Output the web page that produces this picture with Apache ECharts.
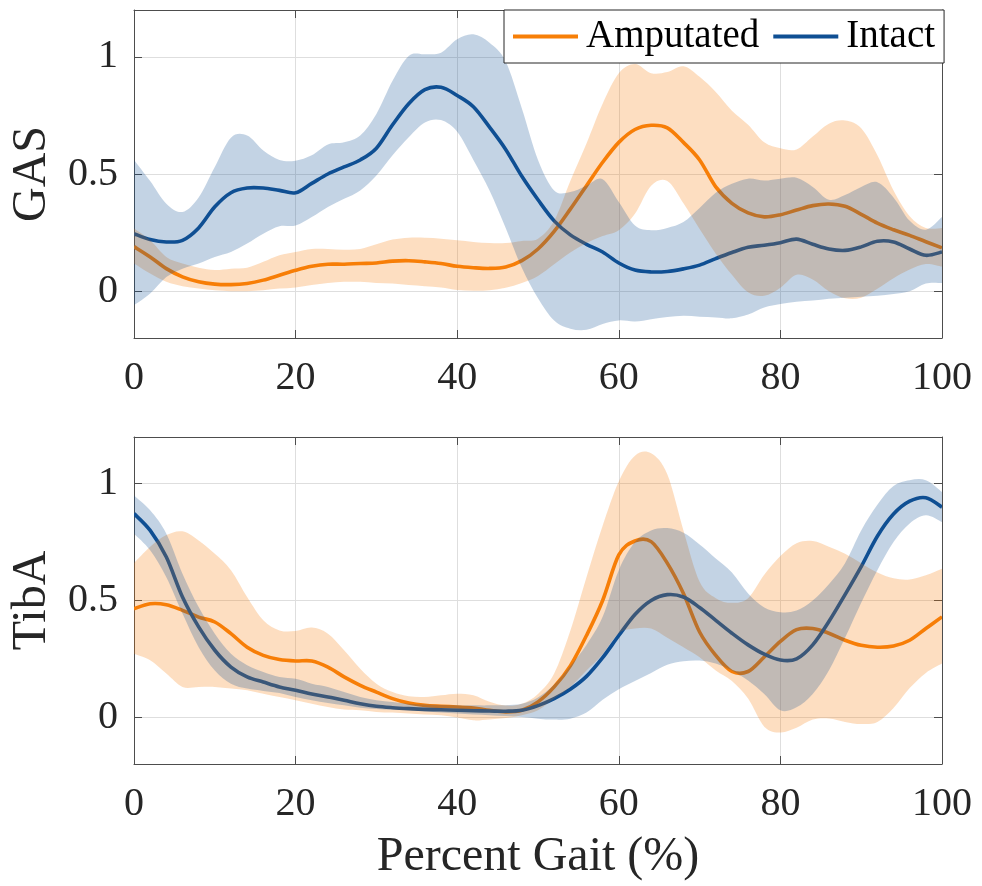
<!DOCTYPE html>
<html>
<head>
<meta charset="utf-8">
<script src="https://cdn.jsdelivr.net/npm/echarts@6/dist/echarts.min.js"></script>
<style>
html, body { margin: 0; padding: 0; background: #fff; }
#chart { width: 982px; height: 886px; }
</style>
</head>
<body>
<div id="chart"></div>
<script>
// percent gait, sampled every 2 %
const gait = [0,2,4,6,8,10,12,14,16,18,20,22,24,26,28,30,32,34,36,38,40,42,44,46,48,50,
  52,54,56,58,60,62,64,66,68,70,72,74,76,78,80,82,84,86,88,90,92,94,96,98,100];

// GAS
const gasAmpMean = [0.19,0.146,0.096,0.061,0.04,0.03,0.028,0.033,0.047,0.068,0.089,0.106,0.115,0.115,0.118,0.12,0.128,0.13,0.125,0.118,0.106,0.1,0.097,0.103,0.13,0.18,
  0.255,0.35,0.45,0.55,0.635,0.69,0.708,0.697,0.635,0.56,0.445,0.375,0.334,0.317,0.326,0.346,0.365,0.372,0.362,0.328,0.29,0.262,0.238,0.211,0.185];
const gasAmpUpper = [0.267,0.217,0.146,0.118,0.1,0.09,0.096,0.1,0.125,0.153,0.167,0.18,0.18,0.177,0.18,0.2,0.22,0.228,0.228,0.224,0.217,0.21,0.205,0.205,0.214,0.224,
  0.3,0.47,0.63,0.8,0.93,0.97,0.93,0.935,0.96,0.915,0.85,0.77,0.71,0.635,0.61,0.605,0.66,0.715,0.728,0.695,0.58,0.43,0.32,0.27,0.27];
const gasAmpLower = [0.118,0.075,0.04,0.021,0.011,0.004,0,0,0.004,0.011,0.016,0.026,0.035,0.04,0.04,0.035,0.033,0.026,0.021,0.016,0.005,0.002,0.004,0.015,0.035,0.065,
  0.115,0.165,0.205,0.235,0.26,0.33,0.45,0.47,0.375,0.265,0.16,0.07,-0.005,-0.02,0.015,0.07,0.05,0,-0.03,-0.028,0.01,0.055,0.092,0.116,0.105];
const gasIntMean = [0.245,0.22,0.21,0.217,0.27,0.36,0.42,0.44,0.44,0.43,0.42,0.46,0.5,0.53,0.56,0.61,0.71,0.8,0.86,0.87,0.835,0.787,0.7,0.605,0.49,0.39,
  0.3,0.24,0.2,0.167,0.12,0.09,0.082,0.084,0.095,0.111,0.139,0.165,0.187,0.196,0.207,0.222,0.2,0.18,0.174,0.189,0.213,0.21,0.18,0.153,0.167];
const gasIntUpper = [0.56,0.47,0.373,0.338,0.4,0.53,0.655,0.664,0.6,0.56,0.557,0.58,0.626,0.635,0.664,0.756,0.898,1.004,1.011,1.018,1.075,1.096,1.06,0.98,0.78,0.56,
  0.43,0.423,0.45,0.478,0.38,0.28,0.26,0.27,0.295,0.355,0.42,0.458,0.48,0.472,0.48,0.484,0.445,0.39,0.41,0.445,0.465,0.4,0.3,0.262,0.316];
const gasIntLower = [-0.06,-0.01,0.06,0.096,0.118,0.146,0.167,0.203,0.245,0.277,0.28,0.316,0.359,0.394,0.43,0.494,0.58,0.657,0.72,0.73,0.68,0.56,0.43,0.27,0.1,-0.03,
  -0.125,-0.16,-0.165,-0.14,-0.125,-0.13,-0.12,-0.11,-0.105,-0.109,-0.112,-0.116,-0.1,-0.07,-0.055,-0.045,-0.04,-0.032,-0.028,-0.024,-0.02,-0.012,0,0.033,0.035];

// TibA
const tibAmpMean = [0.465,0.486,0.482,0.458,0.429,0.408,0.358,0.3,0.265,0.247,0.241,0.241,0.215,0.173,0.137,0.108,0.08,0.061,0.051,0.047,0.044,0.04,0.03,0.023,0.03,0.066,
  0.13,0.22,0.35,0.5,0.695,0.755,0.752,0.66,0.53,0.365,0.265,0.196,0.196,0.258,0.325,0.375,0.38,0.36,0.33,0.308,0.3,0.305,0.33,0.38,0.43];
const tibAmpUpper = [0.66,0.73,0.78,0.796,0.757,0.7,0.63,0.515,0.415,0.372,0.369,0.384,0.358,0.287,0.208,0.144,0.108,0.09,0.087,0.094,0.101,0.094,0.066,0.05,0.058,0.1,
  0.187,0.37,0.6,0.82,1.01,1.12,1.13,1.04,0.8,0.58,0.51,0.49,0.51,0.61,0.69,0.745,0.755,0.73,0.7,0.66,0.62,0.595,0.59,0.608,0.636];
const tibAmpLower = [0.272,0.244,0.187,0.13,0.13,0.13,0.123,0.116,0.101,0.087,0.073,0.058,0.044,0.033,0.03,0.023,0.02,0.016,0.012,0.009,-0.001,-0.013,-0.009,-0.003,0.009,0.03,
  0.08,0.13,0.2,0.27,0.36,0.38,0.38,0.34,0.3,0.257,0.2,0.155,0.08,-0.04,-0.065,-0.045,-0.01,-0.005,-0.02,-0.029,-0.02,0.04,0.125,0.19,0.23];
const tibIntMean = [0.872,0.8,0.686,0.515,0.387,0.287,0.215,0.173,0.151,0.13,0.116,0.1,0.087,0.073,0.058,0.047,0.041,0.037,0.034,0.032,0.03,0.028,0.027,0.026,0.03,0.05,
  0.08,0.12,0.175,0.255,0.35,0.44,0.5,0.525,0.515,0.47,0.415,0.36,0.31,0.27,0.245,0.25,0.31,0.41,0.525,0.645,0.775,0.87,0.925,0.94,0.9];
const tibIntUpper = [0.95,0.886,0.786,0.615,0.472,0.358,0.272,0.223,0.194,0.173,0.165,0.144,0.13,0.108,0.087,0.073,0.065,0.058,0.055,0.053,0.051,0.051,0.051,0.052,0.058,0.085,
  0.14,0.22,0.31,0.43,0.63,0.75,0.8,0.81,0.79,0.74,0.68,0.62,0.53,0.47,0.45,0.457,0.5,0.57,0.66,0.8,0.91,0.99,1.015,1.015,0.965];
const tibIntLower = [0.786,0.715,0.6,0.444,0.3,0.2,0.144,0.123,0.113,0.104,0.087,0.073,0.061,0.051,0.041,0.036,0.033,0.03,0.025,0.02,0.016,0.012,0.009,0.005,0.001,-0.006,
  -0.01,-0.006,0.02,0.075,0.12,0.155,0.19,0.225,0.24,0.243,0.23,0.2,0.157,0.1,0.03,0.043,0.1,0.2,0.34,0.49,0.63,0.75,0.83,0.865,0.836];

const yTicks = [0, 0.5, 1];

const serif = 'Liberation Serif';
const ink = '#262626';
const boxColor = '#4d4d4d';
const orange = '#F77F07';
const blue = '#0F4F93';
const orangeBand = 'rgba(247,123,7,0.25)';
const blueBand = 'rgba(15,79,147,0.25)';

// cubic segments through pixel points (Catmull-Rom)
function curve(pts) {
  let s = '';
  let n = pts.length;
  for (let i = 0; i < n - 1; i++) {
    let p0 = pts[Math.max(i - 1, 0)], p1 = pts[i], p2 = pts[i + 1], p3 = pts[Math.min(i + 2, n - 1)];
    let c1 = [p1[0] + (p2[0] - p0[0]) / 6, p1[1] + (p2[1] - p0[1]) / 6];
    let c2 = [p2[0] - (p3[0] - p1[0]) / 6, p2[1] - (p3[1] - p1[1]) / 6];
    s += ' C' + c1[0].toFixed(2) + ',' + c1[1].toFixed(2) + ' ' + c2[0].toFixed(2) + ',' + c2[1].toFixed(2) +
      ' ' + p2[0].toFixed(2) + ',' + p2[1].toFixed(2);
  }
  return s;
}

function meanLine(name, ys, color, ax) {
  return {
    name: name, type: 'custom', xAxisIndex: ax, yAxisIndex: ax, silent: true, z: 2, clip: true,
    itemStyle: { color: color },
    data: gait.map((x, i) => [x, ys[i]]),
    encode: { x: 0, y: 1 },
    renderItem: function (params, api) {
      if (params.dataIndex !== 0) return null;
      let pts = gait.map((x, i) => api.coord([x, ys[i]]));
      let d = 'M' + pts[0][0] + ',' + pts[0][1] + curve(pts);
      return {
        type: 'path', shape: { pathData: d },
        style: { fill: null, stroke: color, lineWidth: 3.6, lineJoin: 'round' }
      };
    }
  };
}

function band(lower, upper, fill, ax) {
  return {
    type: 'custom', xAxisIndex: ax, yAxisIndex: ax, silent: true, z: 3, clip: true,
    data: gait.map((x, i) => [x, lower[i], upper[i]]),
    encode: { x: 0, y: [1, 2] },
    renderItem: function (params, api) {
      if (params.dataIndex !== 0) return null;
      let top = gait.map((x, i) => api.coord([x, upper[i]]));
      let bot = gait.map((x, i) => api.coord([x, lower[i]])).reverse();
      let d = 'M' + top[0][0] + ',' + top[0][1] + curve(top) +
        ' L' + bot[0][0] + ',' + bot[0][1] + curve(bot) + ' Z';
      return { type: 'path', shape: { pathData: d }, style: { fill: fill, stroke: null } };
    }
  };
}

function xAxes(gi, name) {
  let main = {
    gridIndex: gi, type: 'value', min: 0, max: 100, interval: 20, position: 'bottom',
    axisLine: { show: true, onZero: false, lineStyle: { color: boxColor, width: 1 } },
    axisTick: { show: true, inside: true, length: 8, lineStyle: { color: boxColor } },
    axisLabel: { fontFamily: serif, fontSize: 40, color: ink, margin: 20 },
    splitLine: { show: true, lineStyle: { color: '#dedede', width: 1 } }
  };
  if (name) {
    main.name = name;
    main.nameLocation = 'middle';
    main.nameGap = 69;
    main.nameTextStyle = { fontFamily: serif, fontSize: 48, color: ink };
  }
  let top = {
    gridIndex: gi, type: 'value', min: 0, max: 100, interval: 20, position: 'top',
    axisLine: { show: true, onZero: false, lineStyle: { color: boxColor, width: 1 } },
    axisTick: { show: true, inside: true, length: 8, lineStyle: { color: boxColor } },
    axisLabel: { show: false }, splitLine: { show: false }
  };
  return [main, top];
}

function yAxes(gi, name) {
  let left = {
    gridIndex: gi, type: 'value', min: -0.2, max: 1.2, position: 'left',
    name: name, nameLocation: 'middle', nameGap: 78, nameRotate: 90,
    nameTextStyle: { fontFamily: serif, fontSize: 48, color: ink },
    axisLine: { show: true, onZero: false, lineStyle: { color: boxColor, width: 1 } },
    axisTick: { show: true, inside: true, length: 8, customValues: yTicks, lineStyle: { color: boxColor } },
    axisLabel: { customValues: yTicks, fontFamily: serif, fontSize: 40, color: ink, margin: 16 },
    splitLine: { show: true, lineStyle: { color: '#dedede', width: 1 } }
  };
  let right = {
    gridIndex: gi, type: 'value', min: -0.2, max: 1.2, position: 'right',
    axisLine: { show: true, onZero: false, lineStyle: { color: boxColor, width: 1 } },
    axisTick: { show: true, inside: true, length: 8, customValues: yTicks, lineStyle: { color: boxColor } },
    axisLabel: { show: false }, splitLine: { show: false }
  };
  return [left, right];
}

let chart = echarts.init(document.getElementById('chart'));

let series = [
  meanLine('Amputated', gasAmpMean, orange, 0),
  meanLine('Intact', gasIntMean, blue, 0),
  band(gasAmpLower, gasAmpUpper, orangeBand, 0),
  band(gasIntLower, gasIntUpper, blueBand, 0),
  meanLine('Amputated', tibAmpMean, orange, 2),
  meanLine('Intact', tibIntMean, blue, 2),
  band(tibAmpLower, tibAmpUpper, orangeBand, 2),
  band(tibIntLower, tibIntUpper, blueBand, 2)
];

let options = {
  backgroundColor: '#fff',
  animation: false,
  grid: [
    { left: 134, top: 10, width: 808, height: 328 },
    { left: 134, top: 437, width: 808, height: 327 }
  ],
  xAxis: [].concat(xAxes(0, null), xAxes(1, 'Percent Gait (%)')),
  yAxis: [].concat(yAxes(0, 'GAS'), yAxes(1, 'TibA')),
  legend: {
    data: ['Amputated', 'Intact'],
    left: 504, top: 10,
    icon: 'rect', itemWidth: 65, itemHeight: 4, itemGap: 14,
    padding: [7, 9, 7, 9],
    backgroundColor: '#fff', borderColor: ink, borderWidth: 1,
    textStyle: { fontFamily: serif, fontSize: 39, color: '#000', padding: [0, 0, 0, 3] }
  },
  series: series
};

chart.setOption(options);
</script>
</body>
</html>
